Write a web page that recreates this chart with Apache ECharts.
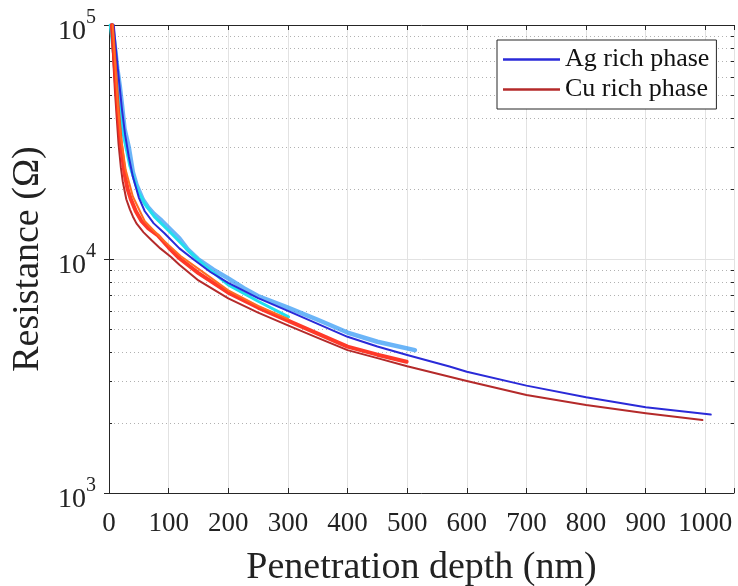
<!DOCTYPE html>
<html><head><meta charset="utf-8">
<script src="https://cdn.jsdelivr.net/npm/echarts@6/dist/echarts.min.js"></script>
<style>html,body{margin:0;padding:0;background:#fff}#c{width:738px;height:586px}</style>
</head><body><div id="c"></div>
<script>
// ---- data ----
const xTickLabels = [0,100,200,300,400,500,600,700,800,900,1000];
const yTickLabels = [1000,10000,100000];
const minorYValues = [2000,3000,4000,5000,6000,7000,8000,9000,20000,30000,40000,50000,60000,70000,80000,90000];

// Ag rich phase, long curve (dark blue)
const agLongX = [8,11,14,18,22,27,33,40,50,60,75,93,118,143,170,200,250,300,350,400,450,500,571,600,700,800,900,1009];
const agLongY = [100000,82000,68000,54000,43000,34000,27500,22500,18300,16000,14200,12880,11100,9900,8800,7900,6800,6000,5280,4650,4230,3890,3470,3300,2877,2565,2324,2163];
// Ag rich phase, light-blue band
const agLightX = [5,10,14,18,22,26,33,40,46,57,65,75,88,104,118,132,149,175,200,226,252,300,350,400,450,513];
const agLightY = [100000,80000,65000,55000,45000,36000,30200,23500,20800,17900,16700,15600,14600,13300,12250,11000,10000,9000,8260,7500,6900,6200,5500,4850,4430,4080];
// Ag rich phase, cyan curve
const agCyanX = [2,6,10,15,20,25,35,48,60,76,100,132,160,200,250,301];
const agCyanY = [100000,82000,66000,50000,40000,33000,25000,19700,17200,15180,13200,10920,9400,7750,6600,5660];
// Cu rich phase, long curve (dark red)
const cuLongX = [4,7,10,13,16,20,23,29,35,40,46,58,71,86,104,118,150,200,250,300,350,400,450,500,600,700,800,900,995];
const cuLongY = [100000,72000,52000,40000,31000,24500,21500,18000,16300,15200,14200,13000,12050,11100,10200,9450,8100,6790,5900,5200,4600,4080,3770,3480,3010,2625,2378,2193,2050];
// Cu rich phase, bright red curve
const cuRedX = [5,8,12,16,20,26,31,37,45,54,66,82,100,118,150,200,250,300,350,400,450,499];
const cuRedY = [100000,78000,55000,40000,31000,23200,20000,17900,16000,14600,13500,12600,11200,10070,8700,7180,6200,5450,4800,4220,3900,3640];
// Cu rich phase, orange-red curve
const cuOrangeX = [6,10,15,20,28,40,60,90,120,160,200,250,300];
const cuOrangeY = [100000,70000,45000,33000,24000,18500,14500,12100,10300,8700,7350,6300,5550];

const X_MAX = 1048;
const zip = (xs, ys) => xs.map((x, i) => [x, ys[i]]);
const FONT = "'Liberation Serif','Times New Roman',serif";
const AX = '#262626';

const chart = echarts.init(document.getElementById('c'), null, {renderer: 'canvas'});

function lineSeries(name, xs, ys, color, width, z, opacity) {
  return {
    name: name, type: 'line', data: zip(xs, ys), showSymbol: false, symbol: 'none',
    smooth: false,
    lineStyle: {color: color, width: width, opacity: opacity == null ? 1 : opacity, join: 'round', cap: 'round'},
    itemStyle: {color: color}, clip: true, z: z, silent: true, animation: false
  };
}

const yLabelFmt = v => {
  const e = Math.round(Math.log10(v));
  return '{b|10}{s|' + e + '}';
};

const option = {
  animation: false,
  backgroundColor: '#fff',
  grid: {left: 109, right: 4, top: 25, bottom: 93, containLabel: false, outerBoundsMode: 'none'},
  legend: {
    data: ['Ag rich phase', 'Cu rich phase'],
    left: 497, top: 40, orient: 'vertical',
    backgroundColor: '#fff', borderColor: AX, borderWidth: 1,
    padding: [5, 7, 5, 6], itemGap: 1,
    icon: 'rect', itemWidth: 57, itemHeight: 2.5,
    textStyle: {fontFamily: FONT, fontSize: 26, color: '#111', lineHeight: 29, padding: [0, 0, 0, 0]},
    selectedMode: false
  },
  xAxis: [{
    type: 'value', min: 0, max: X_MAX, interval: 100, position: 'bottom',
    name: 'Penetration depth (nm)', nameLocation: 'middle', nameGap: 56,
    nameTextStyle: {fontFamily: FONT, fontSize: 38, color: '#222'},
    axisLine: {show: true, lineStyle: {color: AX, width: 1}},
    axisTick: {show: true, inside: true, length: 5, lineStyle: {color: AX}},
    axisLabel: {
      fontFamily: FONT, fontSize: 27, color: '#222', margin: 17, showMaxLabel: true,
      formatter: v => (xTickLabels.indexOf(v) >= 0 ? String(v) : '')
    },
    splitLine: {show: true, lineStyle: {color: '#e2e2e2', width: 1}}
  }, {
    type: 'value', min: 0, max: X_MAX, interval: 100, position: 'top',
    axisLine: {show: true, lineStyle: {color: AX, width: 1}},
    axisTick: {show: true, inside: true, length: 5, lineStyle: {color: AX}},
    axisLabel: {show: false}, splitLine: {show: false}
  }],
  yAxis: [{
    type: 'log', logBase: 10, min: 1000, max: 100000, position: 'left',
    name: 'Resistance (Ω)', nameLocation: 'middle', nameGap: 62, nameRotate: 90,
    nameTextStyle: {fontFamily: FONT, fontSize: 38, color: '#222'},
    axisLine: {show: true, lineStyle: {color: AX, width: 1}},
    axisTick: {show: true, inside: true, length: 5, lineStyle: {color: AX}},
    axisLabel: {
      margin: 13, formatter: yLabelFmt,
      rich: {
        b: {fontFamily: FONT, fontSize: 28, color: '#222', verticalAlign: 'bottom', lineHeight: 42},
        s: {fontFamily: FONT, fontSize: 20, color: '#222', verticalAlign: 'top', lineHeight: 42, padding: [4, 0, 0, 0]}
      }
    },
    splitLine: {show: true, lineStyle: {color: '#e2e2e2', width: 1}}
  }, {
    type: 'log', logBase: 10, min: 1000, max: 100000, position: 'right',
    axisLine: {show: true, lineStyle: {color: AX, width: 1}},
    axisTick: {show: true, inside: true, length: 5, lineStyle: {color: AX}},
    axisLabel: {show: false}, splitLine: {show: false}
  }],
  series: [
    {
      name: 'minor grid', type: 'custom', silent: true, z: 1,
      xAxisIndex: 0, yAxisIndex: 0,
      data: minorYValues.map(v => [0, v]),
      encode: {x: 0, y: 1},
      renderItem: function (params, api) {
        const v = api.value(1);
        const a = api.coord([0, v]);
        const b = api.coord([X_MAX, v]);
        const y = Math.round(a[1]) + 0.5;
        return {
          type: 'group',
          children: [
            {type: 'line', shape: {x1: a[0] + 1, y1: y, x2: b[0] - 1, y2: y},
             style: {stroke: 'rgba(60,60,60,0.4)', lineWidth: 1, lineDash: [1, 3]}},
            {type: 'line', shape: {x1: a[0], y1: y, x2: a[0] + 3, y2: y},
             style: {stroke: AX, lineWidth: 1}},
            {type: 'line', shape: {x1: b[0] - 3, y1: y, x2: b[0], y2: y},
             style: {stroke: AX, lineWidth: 1}}
          ]
        };
      }
    },
    lineSeries('Ag light', agLightX, agLightY, '#3a9cf6', 4.5, 3, 0.75),
    lineSeries('Ag cyan', agCyanX, agCyanY, '#22dfee', 3, 4),
    lineSeries('Ag rich phase', agLongX, agLongY, '#2a2ad8', 2, 5),
    lineSeries('Cu rich phase', cuLongX, cuLongY, '#b42a2a', 2, 6),
    lineSeries('Cu red', cuRedX, cuRedY, '#ff2e1e', 4, 7, 0.95),
    lineSeries('Cu orange', cuOrangeX, cuOrangeY, '#ff6c22', 2, 8)
  ]
};
chart.setOption(option);
</script>
</body></html>
